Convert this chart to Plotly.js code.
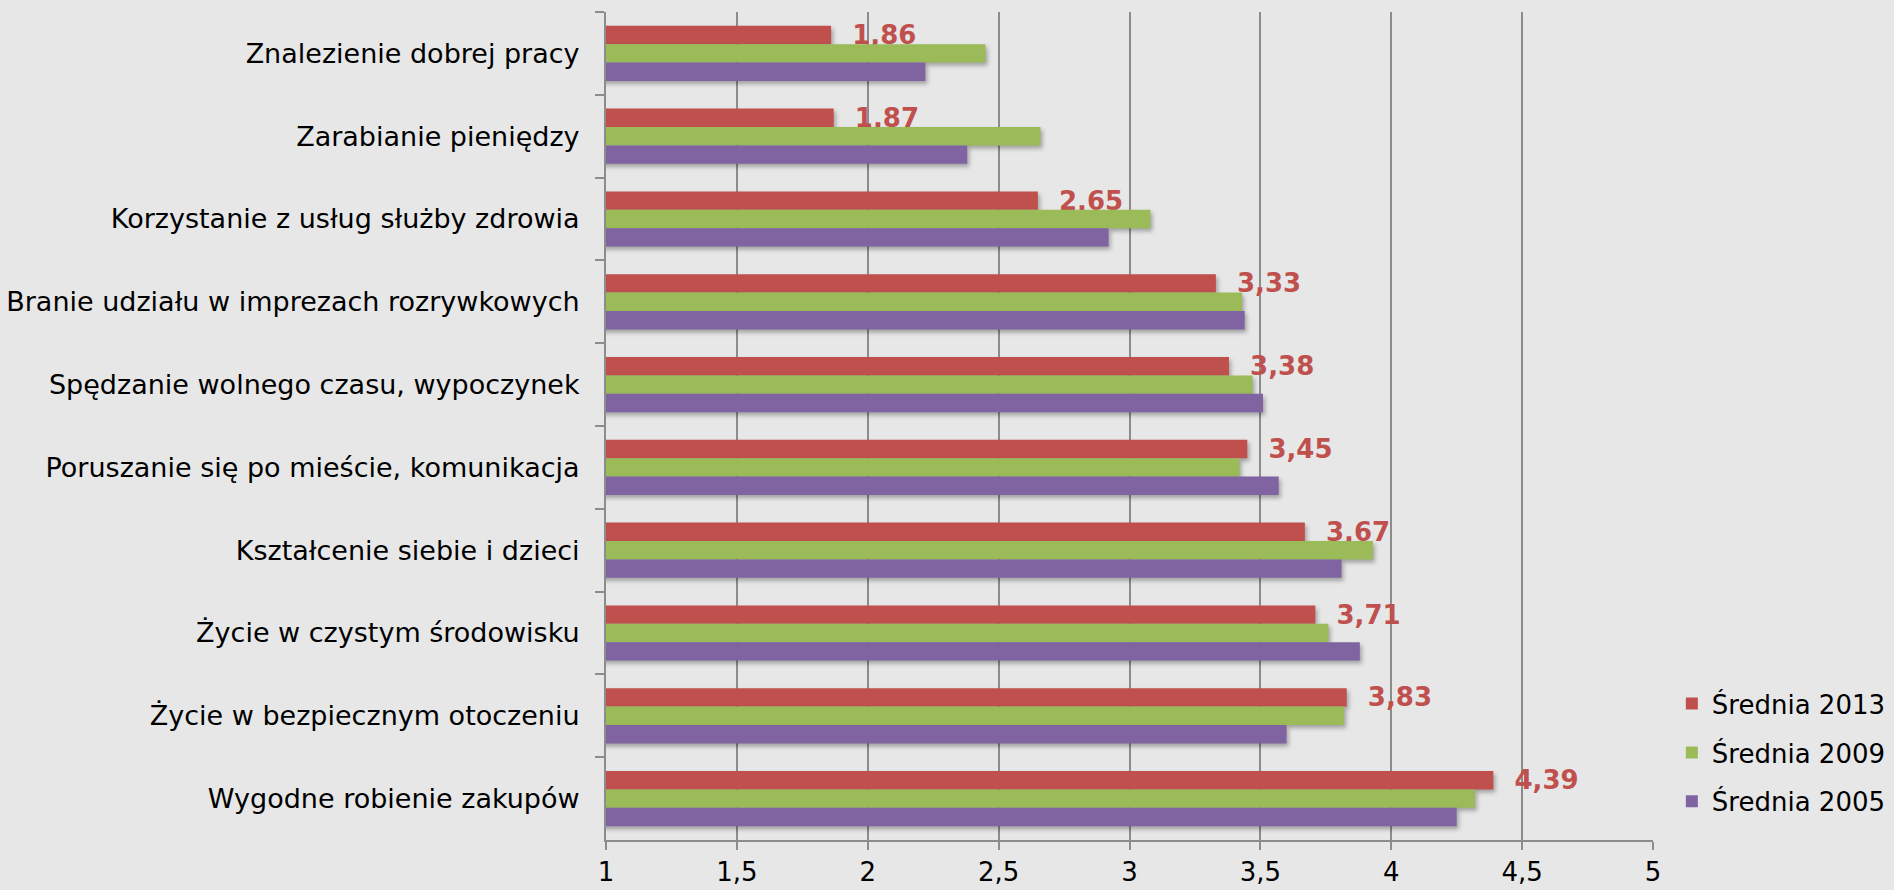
<!DOCTYPE html>
<html><head><meta charset="utf-8">
<script src="https://cdn.plot.ly/plotly-3.0.1.min.js"></script>
<style>
html,body{margin:0;padding:0;background:#e7e7e7;}
.trace.bars .point path{filter:drop-shadow(2px 3px 2px rgba(0,0,0,0.30));}
</style>
</head><body>
<div id="chart" style="width:1894px;height:890px;"></div>
<script>
const categories = [
  'Znalezienie dobrej pracy',
  'Zarabianie pieniędzy',
  'Korzystanie z usług służby zdrowia',
  'Branie udziału w imprezach rozrywkowych',
  'Spędzanie wolnego czasu, wypoczynek',
  'Poruszanie się po mieście, komunikacja',
  'Kształcenie siebie i dzieci',
  'Życie w czystym środowisku',
  'Życie w bezpiecznym otoczeniu',
  'Wygodne robienie zakupów'
];
const avg2013 = [1.86, 1.87, 2.65, 3.33, 3.38, 3.45, 3.67, 3.71, 3.83, 4.39];
const avg2009 = [2.45, 2.66, 3.08, 3.43, 3.47, 3.42, 3.93, 3.76, 3.82, 4.32];
const avg2005 = [2.22, 2.38, 2.92, 3.44, 3.51, 3.57, 3.81, 3.88, 3.60, 4.25];
const seriesNames = ['Średnia 2013', 'Średnia 2009', 'Średnia 2005'];
const seriesColors = ['#C0504D', '#9BBB59', '#8064A2'];
const xTickVals = [1, 1.5, 2, 2.5, 3, 3.5, 4, 4.5, 5];

const FONT = 'Verdana, "DejaVu Sans", sans-serif';
const labels2013 = avg2013.map(v => '\u00a0\u00a0' + v.toFixed(2).replace('.', ','));

const seriesValues = [avg2013, avg2009, avg2005];
const traces = seriesValues.map((vals, i) => ({
  type: 'bar',
  orientation: 'h',
  name: seriesNames[i],
  x: vals,
  y: categories,
  base: 0,
  marker: {color: seriesColors[i]},
  legendgroup: 'g' + i,
  text: i === 0 ? labels2013 : undefined,
  textposition: i === 0 ? 'outside' : 'none',
  textfont: {family: FONT, size: 26, color: '#C0504D', weight: 'bold'},
  constraintext: 'none',
  cliponaxis: false,
  hoverinfo: 'x+name'
}));

const layout = {
  width: 1894, height: 890,
  paper_bgcolor: '#e7e7e7', plot_bgcolor: '#e7e7e7',
  separators: ', ',
  font: {family: FONT, size: 27, color: '#000000'},
  margin: {l: 606, r: 241, t: 12, b: 50, pad: 0, autoexpand: false},
  barmode: 'group',
  bargap: 0.333,
  bargroupgap: 0,
  showlegend: true,
  legend: {
    x: 1.018, xanchor: 'left', y: 0.193, yanchor: 'top',
    traceorder: 'grouped', tracegroupgap: 12,
    bgcolor: 'rgba(0,0,0,0)', font: {family: FONT, size: 26, color: '#000'}
  },
  xaxis: {
    range: [1, 5], tickvals: xTickVals, tickformat: ',.1~f',
    showgrid: true, gridcolor: '#8c8c8c', gridwidth: 2,
    showline: true, linecolor: '#8c8c8c', linewidth: 2,
    ticks: 'outside', ticklen: 8, tickcolor: '#8c8c8c', tickwidth: 2,
    zeroline: false, fixedrange: true, automargin: false,
    tickfont: {family: FONT, size: 26, color: '#000'}
  },
  yaxis: {
    type: 'category', autorange: 'reversed',
    showgrid: false, showline: true, linecolor: '#8c8c8c', linewidth: 2,
    ticks: 'outside', tickson: 'boundaries', ticklen: 9, tickcolor: '#8c8c8c', tickwidth: 2,
    ticklabelstandoff: 19,
    zeroline: false, fixedrange: true, automargin: false,
    tickfont: {family: FONT, size: 27, color: '#000'}
  }
};

Plotly.newPlot('chart', traces, layout, {displayModeBar: false, staticPlot: true});
</script>
</body></html>
